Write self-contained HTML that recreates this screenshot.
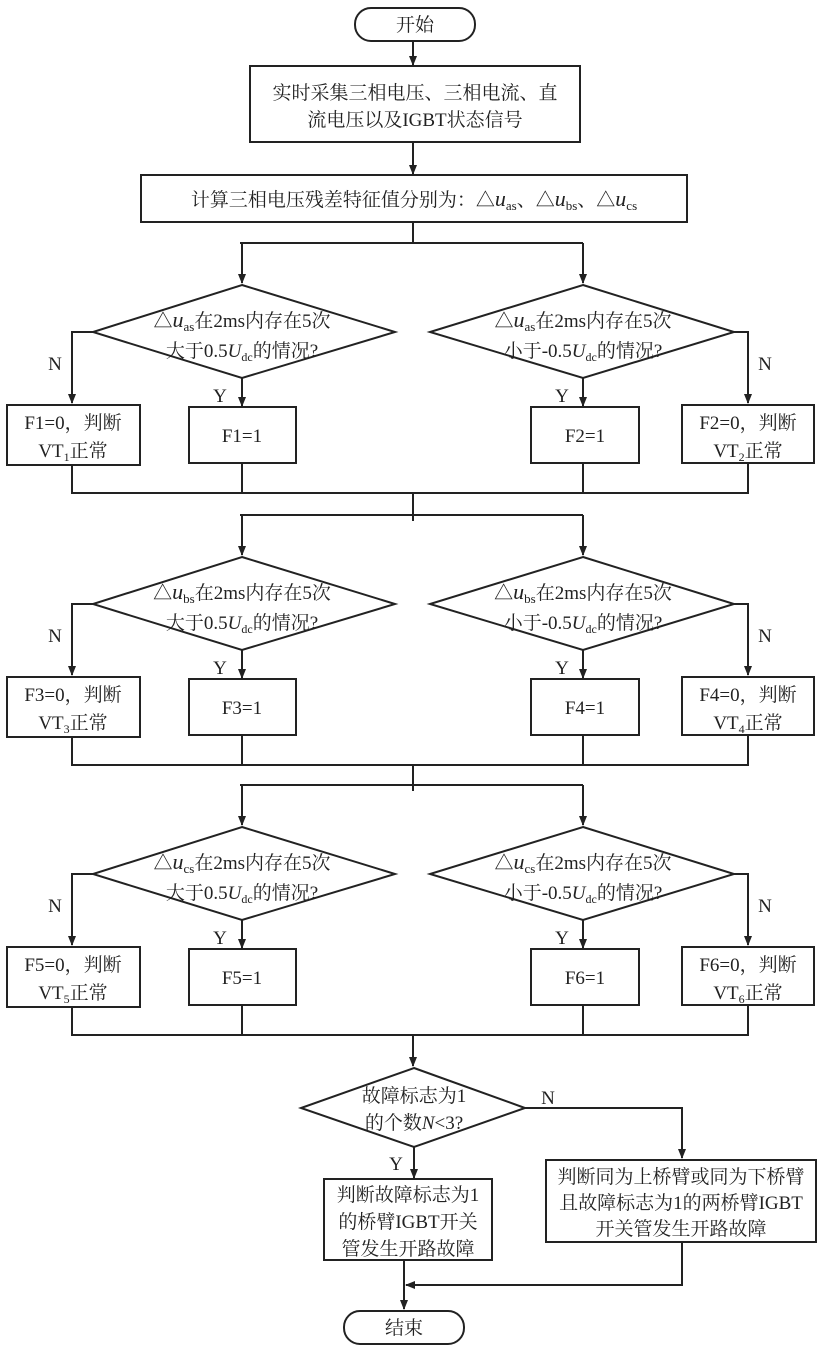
<!DOCTYPE html>
<html><head><meta charset="utf-8"><style>
body{margin:0;background:#fff}
svg text{font-family:"Liberation Serif","Noto Serif CJK SC","Noto Sans CJK SC",serif;font-size:19px;fill:#222}
</style></head><body>
<svg width="824" height="1352" viewBox="0 0 824 1352" xmlns="http://www.w3.org/2000/svg">
<defs><marker id="a" markerWidth="10" markerHeight="10" refX="9" refY="5" orient="auto" markerUnits="userSpaceOnUse"><path d="M0,1 L10,5 L0,9 z" fill="#222"/></marker>
<g id="row">
<line x1="240" y1="0" x2="583" y2="0"/>
<line x1="242" y1="0" x2="242" y2="40" marker-end="url(#a)"/>
<line x1="583" y1="0" x2="583" y2="40" marker-end="url(#a)"/>
<polygon points="242,42 395,89 242,135 93,89" fill="#fff"/>
<polygon points="583,42 734,89 583,135 430,89" fill="#fff"/>
<polyline points="93,89 72,89 72,160" fill="none" marker-end="url(#a)"/>
<polyline points="734,89 748,89 748,160" fill="none" marker-end="url(#a)"/>
<line x1="242" y1="135" x2="242" y2="163" marker-end="url(#a)"/>
<line x1="583" y1="135" x2="583" y2="163" marker-end="url(#a)"/>
<rect x="7" y="162" width="133" height="60" fill="#fff"/>
<rect x="189" y="164" width="107" height="56" fill="#fff"/>
<rect x="531" y="164" width="108" height="56" fill="#fff"/>
<rect x="682" y="162" width="132" height="58" fill="#fff"/>
<polyline points="72,222 72,250 748,250 748,220" fill="none"/>
<line x1="242" y1="220" x2="242" y2="250"/>
<line x1="583" y1="220" x2="583" y2="250"/>
</g>
</defs>
<g stroke="#222" stroke-width="2">
<rect x="355" y="8" width="120" height="33" rx="16" fill="#fff"/>
<line x1="413" y1="41" x2="413" y2="65" marker-end="url(#a)"/>
<rect x="250" y="66" width="330" height="76" fill="#fff"/>
<line x1="413" y1="142" x2="413" y2="174" marker-end="url(#a)"/>
<rect x="141" y="175" width="546" height="47" fill="#fff"/>
<line x1="413" y1="222" x2="413" y2="243"/>
<use href="#row" y="243"/>
<line x1="413" y1="493" x2="413" y2="521"/>
<use href="#row" y="515"/>
<line x1="413" y1="765" x2="413" y2="791"/>
<use href="#row" y="785"/>
<line x1="413" y1="1035" x2="413" y2="1066" marker-end="url(#a)"/>
<polygon points="414,1068 525,1108 414,1147 301,1108" fill="#fff"/>
<polyline points="525,1108 682,1108 682,1158" fill="none" marker-end="url(#a)"/>
<line x1="414" y1="1147" x2="414" y2="1178" marker-end="url(#a)"/>
<rect x="324" y="1179" width="168" height="81" fill="#fff"/>
<rect x="546" y="1160" width="270" height="82" fill="#fff"/>
<polyline points="682,1242 682,1285 406,1285" fill="none" marker-end="url(#a)"/>
<line x1="404" y1="1260" x2="404" y2="1309" marker-end="url(#a)"/>
<rect x="344" y="1311" width="120" height="33" rx="16" fill="#fff"/>
</g>
<g text-anchor="middle">
<text x="415" y="31">开始</text>
<text x="415" y="99">实时采集三相电压、三相电流、直</text>
<text x="415" y="126">流电压以及IGBT状态信号</text>
<text x="414" y="206">计算三相电压残差特征值分别为：△<tspan font-style="italic" font-size="22">u</tspan><tspan font-size="13" dy="4">as</tspan><tspan dy="-4">、△</tspan><tspan font-style="italic" font-size="22">u</tspan><tspan font-size="13" dy="4">bs</tspan><tspan dy="-4">、△</tspan><tspan font-style="italic" font-size="22">u</tspan><tspan font-size="13" dy="4">cs</tspan></text>
<text x="408" y="1201">判断故障标志为1</text>
<text x="408" y="1228">的桥臂IGBT开关</text>
<text x="408" y="1255">管发生开路故障</text>
<text x="681" y="1183">判断同为上桥臂或同为下桥臂</text>
<text x="681" y="1209">且故障标志为1的两桥臂IGBT</text>
<text x="681" y="1235">开关管发生开路故障</text>
<text x="414" y="1102">故障标志为1</text>
<text x="414" y="1129">的个数<tspan font-style="italic">N</tspan>&lt;3?</text>
<text x="548" y="1104">N</text>
<text x="396" y="1170">Y</text>
<text x="404" y="1334">结束</text>
</g>
<g text-anchor="middle">
<text x="242" y="327">△<tspan font-style="italic" font-size="22">u</tspan><tspan font-size="13" dy="4">as</tspan><tspan dy="-4">在2ms内存在5次</tspan></text>
<text x="242" y="357">大于0.5<tspan font-style="italic">U</tspan><tspan font-size="12" dy="4">dc</tspan><tspan dy="-4">的情况?</tspan></text>
<text x="583" y="327">△<tspan font-style="italic" font-size="22">u</tspan><tspan font-size="13" dy="4">as</tspan><tspan dy="-4">在2ms内存在5次</tspan></text>
<text x="583" y="357">小于-0.5<tspan font-style="italic">U</tspan><tspan font-size="12" dy="4">dc</tspan><tspan dy="-4">的情况?</tspan></text>
<text x="55" y="370">N</text><text x="765" y="370">N</text>
<text x="220" y="402">Y</text><text x="562" y="402">Y</text>
<text x="73" y="429">F1=0，判断</text>
<text x="73" y="457">VT<tspan font-size="12" dy="4">1</tspan><tspan dy="-4">正常</tspan></text>
<text x="242" y="442">F1=1</text>
<text x="585" y="442">F2=1</text>
<text x="748" y="429">F2=0，判断</text>
<text x="748" y="457">VT<tspan font-size="12" dy="4">2</tspan><tspan dy="-4">正常</tspan></text>
</g>
<g text-anchor="middle" transform="translate(0,272)">
<text x="242" y="327">△<tspan font-style="italic" font-size="22">u</tspan><tspan font-size="13" dy="4">bs</tspan><tspan dy="-4">在2ms内存在5次</tspan></text>
<text x="242" y="357">大于0.5<tspan font-style="italic">U</tspan><tspan font-size="12" dy="4">dc</tspan><tspan dy="-4">的情况?</tspan></text>
<text x="583" y="327">△<tspan font-style="italic" font-size="22">u</tspan><tspan font-size="13" dy="4">bs</tspan><tspan dy="-4">在2ms内存在5次</tspan></text>
<text x="583" y="357">小于-0.5<tspan font-style="italic">U</tspan><tspan font-size="12" dy="4">dc</tspan><tspan dy="-4">的情况?</tspan></text>
<text x="55" y="370">N</text><text x="765" y="370">N</text>
<text x="220" y="402">Y</text><text x="562" y="402">Y</text>
<text x="73" y="429">F3=0，判断</text>
<text x="73" y="457">VT<tspan font-size="12" dy="4">3</tspan><tspan dy="-4">正常</tspan></text>
<text x="242" y="442">F3=1</text>
<text x="585" y="442">F4=1</text>
<text x="748" y="429">F4=0，判断</text>
<text x="748" y="457">VT<tspan font-size="12" dy="4">4</tspan><tspan dy="-4">正常</tspan></text>
</g>
<g text-anchor="middle" transform="translate(0,542)">
<text x="242" y="327">△<tspan font-style="italic" font-size="22">u</tspan><tspan font-size="13" dy="4">cs</tspan><tspan dy="-4">在2ms内存在5次</tspan></text>
<text x="242" y="357">大于0.5<tspan font-style="italic">U</tspan><tspan font-size="12" dy="4">dc</tspan><tspan dy="-4">的情况?</tspan></text>
<text x="583" y="327">△<tspan font-style="italic" font-size="22">u</tspan><tspan font-size="13" dy="4">cs</tspan><tspan dy="-4">在2ms内存在5次</tspan></text>
<text x="583" y="357">小于-0.5<tspan font-style="italic">U</tspan><tspan font-size="12" dy="4">dc</tspan><tspan dy="-4">的情况?</tspan></text>
<text x="55" y="370">N</text><text x="765" y="370">N</text>
<text x="220" y="402">Y</text><text x="562" y="402">Y</text>
<text x="73" y="429">F5=0，判断</text>
<text x="73" y="457">VT<tspan font-size="12" dy="4">5</tspan><tspan dy="-4">正常</tspan></text>
<text x="242" y="442">F5=1</text>
<text x="585" y="442">F6=1</text>
<text x="748" y="429">F6=0，判断</text>
<text x="748" y="457">VT<tspan font-size="12" dy="4">6</tspan><tspan dy="-4">正常</tspan></text>
</g>
</svg>
</body></html>
